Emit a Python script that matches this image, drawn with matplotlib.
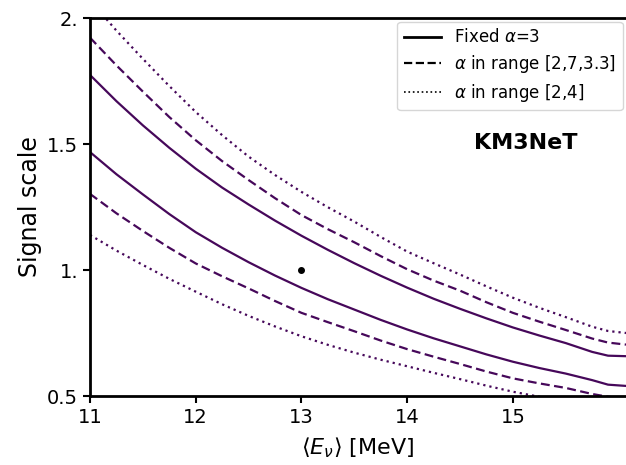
import numpy as np
import matplotlib.pyplot as plt

# mean neutrino energy grid (MeV)
energy = [11.0, 11.25, 11.5, 11.75, 12.0, 12.25, 12.5, 12.75, 13.0, 13.25, 13.5,
          13.75, 14.0, 14.25, 14.5, 14.75, 15.0, 15.25, 15.5, 15.75, 15.9, 16.07]

# signal scale bands
fixed_hi = [1.774, 1.670, 1.574, 1.485, 1.402, 1.327, 1.260, 1.196, 1.136, 1.080, 1.027,
            0.977, 0.930, 0.886, 0.846, 0.808, 0.772, 0.740, 0.710, 0.675, 0.660, 0.658]
fixed_lo = [1.468, 1.380, 1.300, 1.222, 1.150, 1.088, 1.031, 0.978, 0.929, 0.884, 0.843,
            0.802, 0.764, 0.729, 0.697, 0.665, 0.636, 0.611, 0.589, 0.563, 0.545, 0.540]
narrow_hi = [1.922, 1.812, 1.708, 1.607, 1.515, 1.432, 1.357, 1.285, 1.218, 1.162, 1.110,
             1.055, 1.003, 0.958, 0.918, 0.872, 0.830, 0.795, 0.762, 0.728, 0.712, 0.704]
narrow_lo = [1.302, 1.225, 1.155, 1.088, 1.026, 0.975, 0.927, 0.877, 0.830, 0.793, 0.757,
             0.720, 0.686, 0.656, 0.627, 0.597, 0.570, 0.550, 0.532, 0.508, 0.497, 0.490]
wide_hi = [2.070, 1.950, 1.838, 1.730, 1.627, 1.535, 1.450, 1.377, 1.310, 1.249, 1.192,
           1.131, 1.073, 1.027, 0.982, 0.935, 0.890, 0.850, 0.813, 0.775, 0.758, 0.750]
wide_lo = [1.139, 1.077, 1.020, 0.965, 0.914, 0.864, 0.818, 0.776, 0.737, 0.703, 0.672,
           0.644, 0.618, 0.592, 0.567, 0.541, 0.517, 0.497, 0.478, 0.460, 0.450, 0.440]

# best-fit point
best_E, best_s = 13.0, 1.0

color = "#46085a"
dashed = (0, (4, 2))
dotted = (0, (1, 1.8))

fig = plt.figure(figsize=(6.26, 4.65), dpi=100)
ax = fig.add_axes([90 / 626, 69 / 465, 1 - 90 / 626, (396 - 18) / 465])

ax.plot(energy, fixed_hi, color=color, lw=1.6)
ax.plot(energy, fixed_lo, color=color, lw=1.6)
ax.plot(energy, narrow_hi, color=color, lw=1.6, ls=dashed)
ax.plot(energy, narrow_lo, color=color, lw=1.6, ls=dashed)
ax.plot(energy, wide_hi, color=color, lw=1.6, ls=dotted)
ax.plot(energy, wide_lo, color=color, lw=1.6, ls=dotted)
ax.plot([best_E], [best_s], "o", color="black", ms=4)

# legend proxies in black
ax.plot([], [], color="black", lw=2, label=r"Fixed $\alpha$=3")
ax.plot([], [], color="black", lw=1.6, ls="--", label=r"$\alpha$ in range [2,7,3.3]")
ax.plot([], [], color="black", lw=1.2, ls=":", label=r"$\alpha$ in range [2,4]")
ax.legend(loc="upper right", fontsize=12, handlelength=2.2, labelspacing=0.4,
          borderaxespad=0, bbox_to_anchor=(0.994, 0.99))

ax.text(14.63, 1.504, "KM3NeT", fontsize=16, fontweight="bold", va="center")

ax.set_xlim(11, 16.07)
ax.set_ylim(0.5, 2.0)
ax.set_xticks([11, 12, 13, 14, 15])
ax.set_yticks([0.5, 1.0, 1.5, 2.0])
ax.set_yticklabels(["0.5", "1.", "1.5", "2."])
ax.tick_params(labelsize=14, width=1.5, length=5)
for side in ["left", "bottom", "top"]:
    ax.spines[side].set_linewidth(2)
ax.spines["right"].set_visible(False)

ax.set_xlabel(r"$\langle E_\nu \rangle$ [MeV]", fontsize=16, labelpad=6)
ax.set_ylabel("Signal scale", fontsize=17)

fig.savefig("out.png", dpi=100)
